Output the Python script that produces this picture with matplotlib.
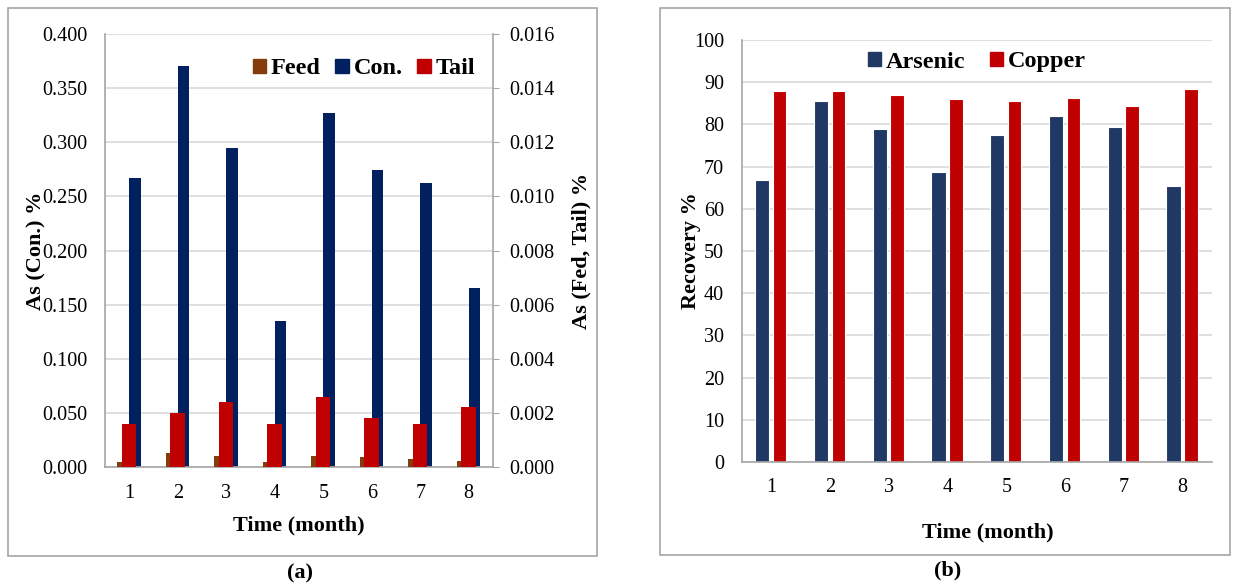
import numpy as np
import matplotlib.pyplot as plt
from matplotlib.patches import Rectangle

plt.rcParams['font.family'] = ['Liberation Serif', 'DejaVu Serif']

# Data
months = [1, 2, 3, 4, 5, 6, 7, 8]
con = [0.267, 0.370, 0.295, 0.135, 0.327, 0.274, 0.262, 0.165]
feed = [0.0002, 0.0005, 0.0004, 0.0002, 0.0004, 0.00036, 0.00028, 0.00022]
tail = [0.0016, 0.0020, 0.0024, 0.0016, 0.0026, 0.0018, 0.0016, 0.0022]

arsenic = [66.9, 85.6, 78.9, 68.8, 77.5, 81.9, 79.5, 65.4]
copper = [87.9, 87.8, 87.0, 86.1, 85.6, 86.3, 84.4, 88.4]

C_FEED = '#843C0C'
C_CON = '#002060'
C_TAIL = '#C00000'
C_AS = '#1F3864'
C_CU = '#C00000'
GRID = '#D9D9D9'
AXIS = '#A6A6A6'

TICK_FS = 14.5
LABEL_FS = 16
LEG_FS = 17.5

W, H = 1239, 584
fig = plt.figure(figsize=(W / 100, H / 100), dpi=100)


def fbox(x0, y0, x1, y1):
    # pixel box (top-left origin) -> figure fraction rect
    return [x0 / W, 1 - y1 / H, (x1 - x0) / W, (y1 - y0) / H]


# panel frames
for x0, y0, x1, y1 in [(8, 8, 597, 556), (660, 8, 1230, 555)]:
    fig.patches.append(Rectangle((x0 / W, 1 - y1 / H), (x1 - x0) / W, (y1 - y0) / H,
                                 transform=fig.transFigure, fill=False,
                                 edgecolor=AXIS, linewidth=1.2))

x = np.array(months, dtype=float)

# ---- panel (a) ----
ax1 = fig.add_axes(fbox(105, 34, 493, 467))
ax1.bar(x + 0.12, con, width=0.24, color=C_CON, zorder=2)
ax1.set_ylim(0, 0.4)
ax1.set_yticks(np.arange(0, 0.401, 0.05))
ax1.set_yticklabels([f'{v:.3f}' for v in np.arange(0, 0.401, 0.05)])
ax1.set_xlim(0.5, 8.5)
ax1.set_xticks(months)
ax1.grid(axis='y', color=GRID, linewidth=1.2, zorder=0)
ax1.set_axisbelow(True)
ax1.tick_params(axis='y', length=0, labelsize=TICK_FS, pad=12.5)
ax1.tick_params(axis='x', length=0, labelsize=TICK_FS, pad=12)
ax1.set_ylabel('As (Con.) %', fontsize=LABEL_FS, fontweight='bold')
ax1.yaxis.set_label_coords(-0.176, 0.5)
ax1.set_xlabel('Time (month)', fontsize=LABEL_FS, fontweight='bold')
ax1.xaxis.set_label_coords(0.5, -0.134)
ax1.xaxis.label.set_va('center')
ax1.yaxis.label.set_va('center')
for s in ['top', 'right']:
    ax1.spines[s].set_visible(False)
ax1.spines['left'].set_color(AXIS)
ax1.spines['bottom'].set_color(AXIS)
ax1.spines['left'].set_linewidth(1.2)
ax1.spines['bottom'].set_linewidth(1.2)

ax2 = ax1.twinx()
ax2.bar(x - 0.2, feed, width=0.1, color=C_FEED, zorder=3)
ax2.bar(x - 0.005, tail, width=0.29, color=C_TAIL, zorder=3)
ax2.set_ylim(0, 0.016)
ax2.set_yticks(np.arange(0, 0.01601, 0.002))
ax2.set_yticklabels([f'{v:.3f}' for v in np.arange(0, 0.01601, 0.002)])
ax2.tick_params(axis='y', length=4, color=AXIS, labelsize=TICK_FS, pad=8)
ax2.set_ylabel('As (Fed, Tail) %', fontsize=LABEL_FS, fontweight='bold')
ax2.yaxis.set_label_coords(1.227, 0.5)
ax2.yaxis.label.set_va('center')
for s in ['top', 'left', 'bottom']:
    ax2.spines[s].set_visible(False)
ax2.spines['right'].set_color(AXIS)
ax2.spines['right'].set_linewidth(1.2)

handles = [Rectangle((0, 0), 1, 1, color=c) for c in (C_FEED, C_CON, C_TAIL)]
fig.legend(handles, ['Feed', 'Con.', 'Tail'], loc='center',
           bbox_to_anchor=(364 / W, 1 - 69 / H), ncol=3, frameon=False,
           prop={'weight': 'bold', 'size': LEG_FS}, handlelength=0.55,
           handleheight=0.55, handletextpad=0.2, columnspacing=0.6)

fig.text(300 / W, 1 - 573 / H, '(a)', ha='center', va='center',
         fontsize=LABEL_FS, fontweight='bold')

# ---- panel (b) ----
ax3 = fig.add_axes(fbox(742, 40, 1212, 462))
ax3.bar(x - 0.155, arsenic, width=0.24, color=C_AS, edgecolor='white',
        linewidth=0.8, zorder=2)
ax3.bar(x + 0.14, copper, width=0.23, color=C_CU, edgecolor='white',
        linewidth=0.8, zorder=2)
ax3.set_ylim(0, 100)
ax3.set_yticks(np.arange(0, 101, 10))
ax3.set_xlim(0.5, 8.5)
ax3.set_xticks(months)
ax3.grid(axis='y', color=GRID, linewidth=1.2, zorder=0)
ax3.set_axisbelow(True)
ax3.tick_params(axis='y', length=0, labelsize=TICK_FS, pad=13)
ax3.tick_params(axis='x', length=0, labelsize=TICK_FS, pad=11.5)
ax3.set_ylabel('Recovery %', fontsize=LABEL_FS, fontweight='bold')
ax3.yaxis.set_label_coords(-0.108, 0.5)
ax3.yaxis.label.set_va('center')
ax3.set_xlabel('Time (month)', fontsize=LABEL_FS, fontweight='bold')
ax3.xaxis.set_label_coords(0.523, -0.166)
ax3.xaxis.label.set_va('center')
for s in ['top', 'right']:
    ax3.spines[s].set_visible(False)
ax3.spines['left'].set_color(AXIS)
ax3.spines['bottom'].set_color(AXIS)
ax3.spines['left'].set_linewidth(1.2)
ax3.spines['bottom'].set_linewidth(1.2)

handles = [Rectangle((0, 0), 1, 1, color=c) for c in (C_AS, C_CU)]
fig.legend(handles, ['Arsenic', 'Copper'], loc='center',
           bbox_to_anchor=(977 / W, 1 - 62 / H), ncol=2, frameon=False,
           prop={'weight': 'bold', 'size': LEG_FS}, handlelength=0.55,
           handleheight=0.55, handletextpad=0.2, columnspacing=1.0)

fig.text(948 / W, 1 - 570 / H, '(b)', ha='center', va='center',
         fontsize=LABEL_FS, fontweight='bold')

plt.savefig('out.png', dpi=100)
